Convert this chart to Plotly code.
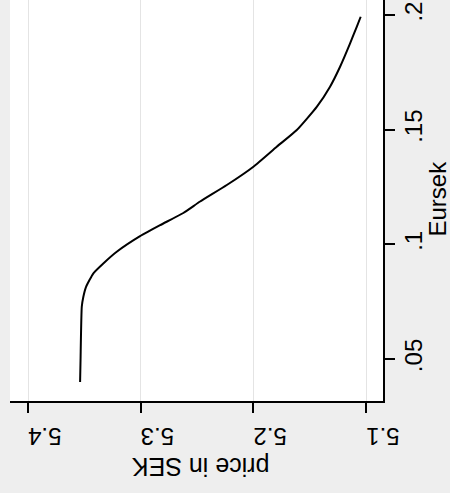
import plotly.graph_objects as go

# Data: price in SEK vs Eursek
eursek = [0.0400, 0.0496, 0.0728, 0.0772, 0.0815, 0.0874, 0.0917, 0.0968,
          0.1036, 0.1084, 0.1137, 0.1187, 0.1259, 0.1339, 0.1426, 0.1499,
          0.1600, 0.1688, 0.1775, 0.1877, 0.1949, 0.1993]
price = [5.3538, 5.3534, 5.3523, 5.3509, 5.3485, 5.3420, 5.3332, 5.3213,
         5.3006, 5.2828, 5.2622, 5.2473, 5.2236, 5.2000, 5.1793, 5.1615,
         5.1438, 5.1320, 5.1231, 5.1142, 5.1083, 5.1048]

price_ticks = [5.1, 5.2, 5.3, 5.4]
price_labels = ["5.1", "5.2", "5.3", "5.4"]
eur_ticks = [0.05, 0.10, 0.15, 0.20]
eur_labels = [".05", ".1", ".15", ".2"]

FONT = "Liberation Sans, Arial, sans-serif"

fig = go.Figure()
fig.add_trace(go.Scatter(x=price, y=eursek, mode="lines",
                         line=dict(color="black", width=2, shape="spline", smoothing=0.5),
                         showlegend=False, hoverinfo="skip"))

fig.update_layout(
    width=450, height=493,
    margin=dict(l=10, r=67, t=0, b=92),
    paper_bgcolor="#eeeeee",
    plot_bgcolor="white",
    font=dict(family=FONT, size=24, color="black"),
    xaxis=dict(
        range=[5.416, 5.085],
        tickvals=price_ticks, ticktext=price_labels,
        tickangle=180,
        ticks="outside", ticklen=10, tickwidth=1.5, tickcolor="black",
        ticklabelstandoff=10,
        showline=True, linecolor="black", linewidth=1.5,
        showgrid=True, gridcolor="#e4e4e4", gridwidth=1,
        zeroline=False,
        tickfont=dict(family=FONT, size=24, color="black"),
    ),
    yaxis=dict(
        range=[0.0317, 0.2066],
        side="right",
        tickvals=eur_ticks, ticktext=eur_labels,
        tickangle=-90,
        ticks="outside", ticklen=10, tickwidth=1.5, tickcolor="black",
        ticklabelstandoff=-2,
        showline=True, linecolor="black", linewidth=1.5,
        showgrid=False, zeroline=False,
        tickfont=dict(family=FONT, size=24, color="black"),
    ),
    annotations=[
        dict(text="price in SEK", xref="paper", yref="paper",
             x=0.51, y=0, yshift=-66, showarrow=False, textangle=180,
             xanchor="center", yanchor="middle",
             font=dict(family=FONT, size=25, color="black")),
        dict(text="Eursek", xref="paper", yref="paper",
             x=1, xshift=54, y=0.505, showarrow=False, textangle=-90,
             xanchor="center", yanchor="middle", borderpad=0,
             font=dict(family=FONT, size=24, color="black")),
    ],
)

fig.write_html("out.html")
